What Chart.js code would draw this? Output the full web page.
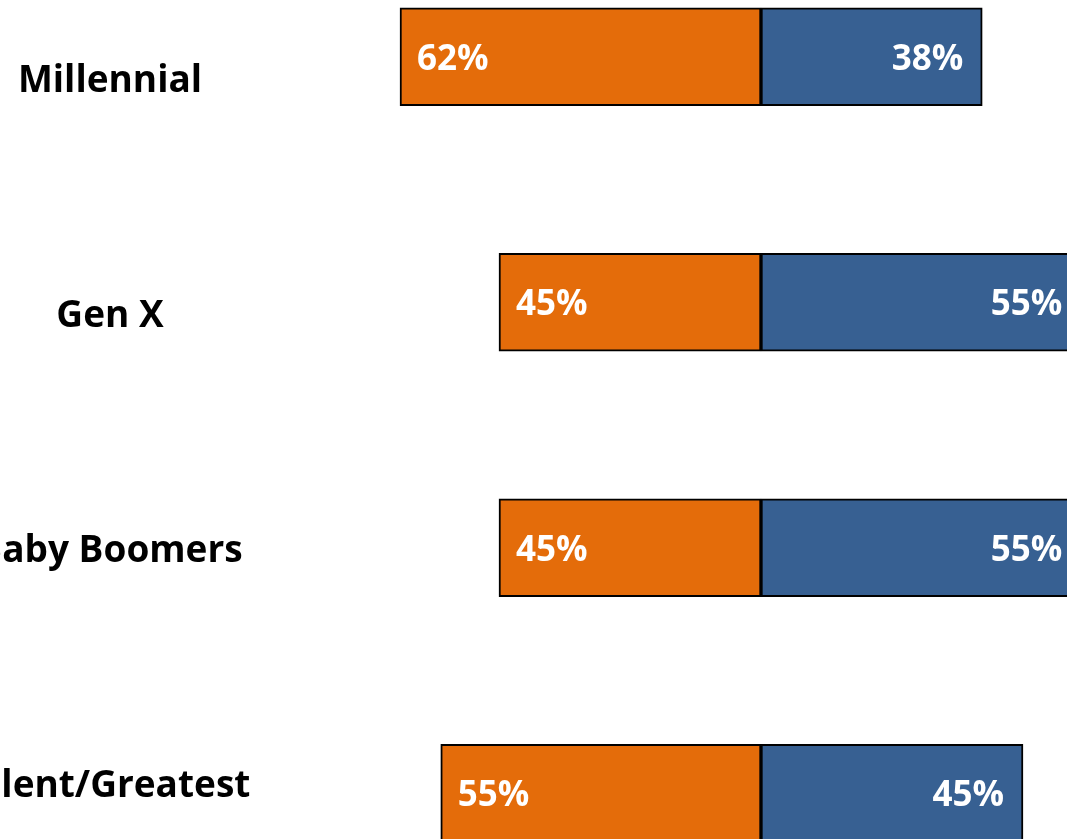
<!DOCTYPE html>
<html>
<head>
<meta charset="utf-8">
<script src="https://cdn.jsdelivr.net/npm/chart.js@4"></script>
<style>
  html, body { margin: 0; padding: 0; background: #ffffff; overflow: hidden; width: 1067px; height: 839px; }
  #wrap { position: absolute; left: 0; top: -66px; width: 1120px; height: 982px; }
</style>
</head>
<body>
<div id="wrap"><canvas id="gen-chart" width="1120" height="982"></canvas></div>
<script>
// generations and the two shares for each
var generations = ["Millennial", "Gen X", "Baby Boomers", "Silent/Greatest"];
var left_share = [62, 45, 45, 55];
var right_share = [38, 55, 55, 45];

var orange = "#E46C0A";
var blue = "#376092";
var value_font = "bold 35px 'Open Sans', 'DejaVu Sans', sans-serif";
var name_font = "bold 37px 'Open Sans', 'DejaVu Sans', sans-serif";

//write the percentage inside each bar
var valueLabels = {
    id: "valueLabels",
    afterDatasetsDraw: function(chart){
        let ctx = chart.ctx;
        ctx.save();
        ctx.font = value_font;
        ctx.fillStyle = "#ffffff";
        ctx.textBaseline = "middle";
        chart.data.datasets.forEach(function(ds, i){
            chart.getDatasetMeta(i).data.forEach(function(bar, j){
                let txt = Math.abs(ds.data[j]) + "%";
                if(ds.data[j] < 0){
                    ctx.textAlign = "left";
                    ctx.fillText(txt, bar.x + 17, bar.y + 3);
                } else {
                    ctx.textAlign = "right";
                    ctx.fillText(txt, bar.x - 19, bar.y + 3);
                }
            });
        });
        ctx.restore();
    }
};

//generation names on the left, centred in their own column
var nameLabels = {
    id: "nameLabels",
    afterDraw: function(chart){
        let ctx = chart.ctx;
        ctx.save();
        ctx.font = name_font;
        ctx.fillStyle = "#000000";
        ctx.textAlign = "center";
        ctx.textBaseline = "alphabetic";
        generations.forEach(function(name, i){
            ctx.fillText(name, 110, 158 + i * 235);
        });
        ctx.restore();
    }
};

let gen_ctx = document.getElementById("gen-chart");

let gen_chart = new Chart(gen_ctx, {
    type: "bar",
    data: {
        labels: generations,
        datasets: [{
            data: left_share.map(v => -v),
            backgroundColor: orange,
            borderColor: "#000000",
            borderWidth: 2,
            borderSkipped: false,
            barThickness: 98
        }, {
            data: right_share,
            backgroundColor: blue,
            borderColor: "#000000",
            borderWidth: 2,
            borderSkipped: false,
            barThickness: 98
        }]
    },
    options: {
        indexAxis: "y",
        responsive: false,
        animation: false,
        layout: { padding: 0 },
        plugins: {
            legend: { display: false },
            tooltip: { enabled: false }
        },
        scales: {
            x: { stacked: true, display: false, min: -130.7, max: 61.66 },
            y: { stacked: true, display: false }
        }
    },
    plugins: [valueLabels, nameLabels]
});
</script>
</body>
</html>
